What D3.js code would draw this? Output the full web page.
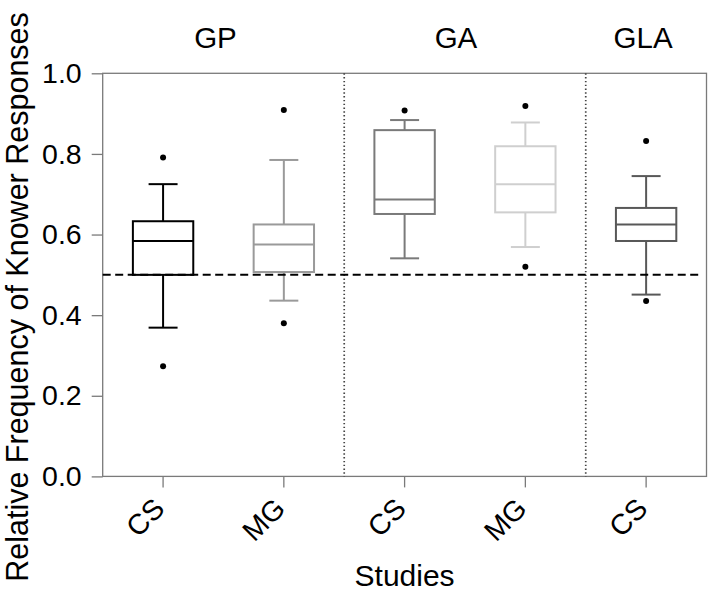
<!DOCTYPE html>
<html><head><meta charset="utf-8">
<script src="https://cdn.jsdelivr.net/npm/d3@7"></script>
<style>
html,body{margin:0;padding:0;background:#fff;}
svg{display:block;font-family:"Liberation Sans",Arial,sans-serif;}
</style></head>
<body>
<svg id="chart" width="708" height="594"></svg>
<script>
const categories = ["CS","MG","CS","MG","CS"];
const groups = ["GP","GP","GA","GA","GLA"];
const groupNames = ["GP","GA","GLA"];
const whiskerLow = [0.369,0.436,0.541,0.569,0.451];
const q1 = [0.500,0.507,0.651,0.655,0.584];
const median = [0.584,0.575,0.687,0.725,0.625];
const q3 = [0.633,0.625,0.859,0.819,0.666];
const whiskerHigh = [0.725,0.785,0.884,0.878,0.745];
const outliers = [[0.791,0.273],[0.909,0.380],[0.908],[0.919,0.520],[0.832,0.435]];
const boxColors = ["#000000","#9a9a9a","#7a7a7a","#cfcfcf","#585858"];
const yTicks = [0,0.2,0.4,0.6,0.8,1.0];
const refValue = 0.5;

(function(){
const svg = d3.select("#chart");
const pL = 102.7, pR = 706.5, pT = 73.3, pB = 476.4;
const ids = categories.map((c,i)=>i);
const x = d3.scaleBand().domain(ids).range([pL,pR]).padding(0);
const y = d3.scaleLinear().domain([0,1]).range([pB,pT]);
const bw = x.bandwidth();
const axisCol = "#7a7a7a";

svg.append("rect").attr("x",pL).attr("y",pT).attr("width",pR-pL).attr("height",pB-pT)
  .attr("fill","none").attr("stroke",axisCol).attr("stroke-width",1.3);

const yAxis = d3.axisLeft(y).tickValues(yTicks).tickFormat(d3.format(".1f")).tickSize(11).tickPadding(10);
const ya = svg.append("g").attr("transform",`translate(${pL},0)`).call(yAxis);
ya.select(".domain").remove();
ya.selectAll("line").attr("stroke",axisCol).attr("stroke-width",1.3);
ya.selectAll("text").attr("font-size",28.5).attr("fill","#000").attr("font-family","Liberation Sans, Arial, sans-serif");

const xAxis = d3.axisBottom(x).tickFormat(i=>categories[i]).tickSize(11).tickPadding(0);
const xa = svg.append("g").attr("transform",`translate(0,${pB})`).call(xAxis);
xa.select(".domain").remove();
xa.selectAll("line").attr("stroke",axisCol).attr("stroke-width",1.3);
xa.selectAll("text").attr("font-size",28.5).attr("fill","#000").attr("font-family","Liberation Sans, Arial, sans-serif")
  .attr("text-anchor","end").attr("dy",0).attr("y",0)
  .attr("transform","translate(3,34) rotate(-45)");

const sepIdx = [1,3];
svg.selectAll(".sep").data(sepIdx).join("line")
  .attr("x1",i=>x(i)+bw).attr("x2",i=>x(i)+bw).attr("y1",pT).attr("y2",pB)
  .attr("stroke","#444").attr("stroke-width",1.7).attr("stroke-dasharray","1.4,2.4");

const gOffsets = {GP:-8,GA:-9,GLA:-3};
groupNames.forEach(g=>{
  const members = ids.filter(i=>groups[i]===g);
  const cx = d3.mean(members,i=>x(i)+bw/2);
  svg.append("text").attr("x",cx+gOffsets[g]).attr("y",48).attr("text-anchor","middle")
    .attr("font-size",29.5).attr("fill","#000").text(g);
});

const bx = svg.append("g");
ids.forEach(i=>{
  const cx = x(i)+bw/2, c = boxColors[i];
  const g = bx.append("g").attr("stroke",c).attr("stroke-width",2).attr("fill","none");
  g.append("line").attr("x1",cx).attr("x2",cx).attr("y1",y(whiskerLow[i])).attr("y2",y(q1[i]));
  g.append("line").attr("x1",cx).attr("x2",cx).attr("y1",y(q3[i])).attr("y2",y(whiskerHigh[i]));
  [whiskerLow[i],whiskerHigh[i]].forEach(v=>{
    g.append("line").attr("x1",cx-bw*0.12).attr("x2",cx+bw*0.12).attr("y1",y(v)).attr("y2",y(v));
  });
  g.append("rect").attr("x",cx-bw/4).attr("width",bw/2).attr("y",y(q3[i])).attr("height",y(q1[i])-y(q3[i]));
  g.append("line").attr("x1",cx-bw/4).attr("x2",cx+bw/4).attr("y1",y(median[i])).attr("y2",y(median[i]));
  outliers[i].forEach(v=>{
    svg.append("circle").attr("cx",cx).attr("cy",y(v)).attr("r",3).attr("fill","#000");
  });
});

svg.append("line").attr("x1",pL).attr("x2",pR-5).attr("y1",y(refValue)).attr("y2",y(refValue))
  .attr("stroke","#000").attr("stroke-width",2).attr("stroke-dasharray","8,4.5");

svg.append("text").attr("x",(pL+pR)/2).attr("y",586).attr("text-anchor","middle")
  .attr("font-size",30).attr("fill","#000").text("Studies");
svg.append("text").attr("transform","translate(28,297) rotate(-90)").attr("text-anchor","middle")
  .attr("font-size",30.5).attr("fill","#000").text("Relative Frequency of Knower Responses");
})();
</script>
</body></html>
